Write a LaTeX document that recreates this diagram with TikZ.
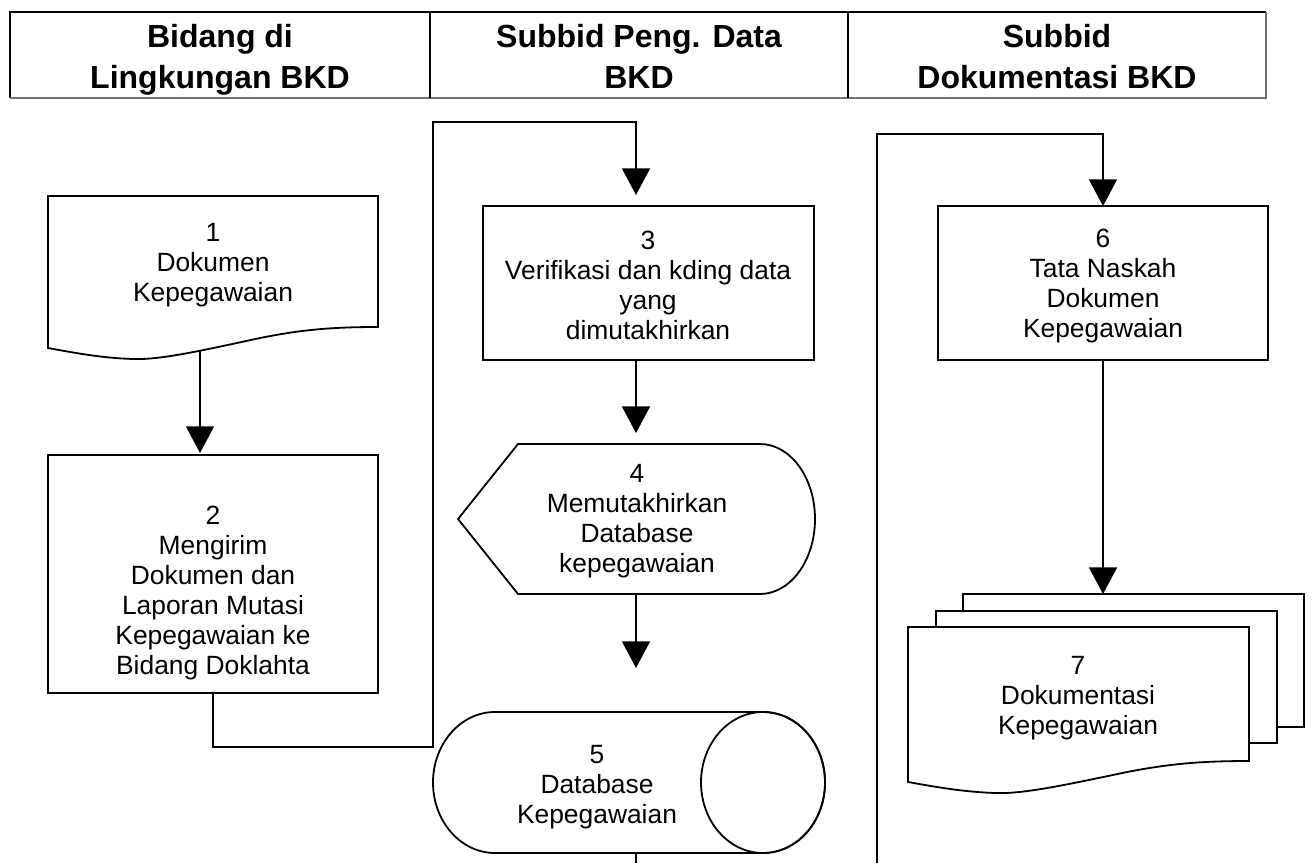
\documentclass[tikz,border=0pt]{standalone}
\usepackage{fontspec}
\setmainfont{Liberation Sans}
\usetikzlibrary{arrows.meta}
\begin{document}
\begin{tikzpicture}[x=0.75pt,y=-0.75pt,
  every node/.style={inner sep=0pt, outer sep=0pt},
  ln/.style={line width=1.35pt, line join=miter},
  arr/.style={ln,-{Triangle[width=21pt,length=20pt]}},
  txt/.style={align=center, font=\fontsize{19.8pt}{22.5pt}\selectfont},
  hdr/.style={align=center, font=\fontsize{24pt}{30.75pt}\selectfont\bfseries},
  pbox/.style={draw, ln, rectangle, fill=white}
]
\useasboundingbox (0,0) rectangle (1312,863);

% header
\draw[line width=0.8pt] (10,98) -- (10,12) -- (1266,12);
\draw[line width=1.3pt, black!55] (10,98) -- (1266,98) -- (1266,12);
\draw[line width=0.8pt] (430,12) -- (430,98);
\draw[line width=0.8pt] (848,12) -- (848,98);
\node[hdr] (h1) at (220,60) {\strut Bidang di\\Lingkungan BKD\strut};
\node[hdr] (h2) at (639,60) {\strut Subbid Peng. Data\\BKD\strut};
\node[hdr] (h3) at (1057,60) {\strut Subbid\\Dokumentasi BKD\strut};

% 1 document
\draw[ln, fill=white] (48,348) -- (48,196) -- (378,196) -- (378,327)
  .. controls (330,327) and (300,330) .. (260,338)
  .. controls (200,351) and (160,360) .. (133,359)
  .. controls (100,358) and (70,352) .. (48,348) -- cycle;
\node[txt] (t1) at (213,265) {1\\Dokumen\\Kepegawaian};
\coordinate (d1b) at (200,351);

% 2 process
\node[pbox, minimum width=247.5pt, minimum height=178.5pt] (b2) at (213,574) {};
\node[txt] (t2) at (213,593) {2\\Mengirim\\Dokumen dan\\Laporan Mutasi\\Kepegawaian ke\\Bidang Doklahta};

% 3 process
\node[pbox, minimum width=248.25pt, minimum height=115.5pt] (b3) at (648.5,283) {};
\node[txt] (t3) at (648,285) {3\\Verifikasi dan kding data\\yang\\dimutakhirkan};

% 4 display
\draw[ln, fill=white] (518,444) -- (760,444)
  arc[start angle=-90, end angle=90, x radius=55, y radius=75]
  -- (518,594) -- (458,519) -- cycle;
\node[txt] (t4) at (637,521) {4\\Memutakhirkan\\Database\\kepegawaian};
\coordinate (s4n) at (636,444);
\coordinate (s4s) at (636,594);

% 5 database
\draw[ln, fill=white] (495,712) -- (763,712)
  arc[start angle=-90, end angle=90, x radius=62, y radius=70.5]
  -- (495,853)
  arc[start angle=90, end angle=270, x radius=62, y radius=70.5] -- cycle;
\draw[ln] (763,782.5) ellipse[x radius=62, y radius=70.5];
\node[txt] (t5) at (597,787) {5\\Database\\Kepegawaian};
\coordinate (s5n) at (636,712);
\coordinate (s5s) at (636,853);
\coordinate (e5) at (636,863);

% 6 process
\node[pbox, minimum width=247.5pt, minimum height=115.5pt] (b6) at (1103,283) {};
\node[txt] (t6) at (1103,286) {6\\Tata Naskah\\Dokumen\\Kepegawaian};

% 7 multi document
\draw[ln, fill=white] (963,594) rectangle (1304,727);
\draw[ln, fill=white] (936,611) rectangle (1277,743);
\draw[ln, fill=white] (908,782) -- (908,627) -- (1249,627) -- (1249,761)
  .. controls (1199.4,761) and (1168.4,764) .. (1127.1,772)
  .. controls (1065.1,785) and (1023.7,794) .. (995.8,793)
  .. controls (961.7,792) and (930.7,786) .. (908,782) -- cycle;
\node[txt] (t7) at (1078,698) {7\\Dokumentasi\\Kepegawaian};
\coordinate (s7n) at (1103,594);

% connectors
\coordinate (j1) at (433,747);
\coordinate (j2) at (433,122);
\coordinate (c2) at (636,0);
\coordinate (e6) at (877,863);
\coordinate (j3) at (877,134);

\draw[arr, shorten >=1.5pt] (d1b) -- (d1b |- b2.north);
\draw[arr, shorten >=8.25pt] (b2.south) |- (j1) -- (j2) -| (c2 |- b3.north);
\draw[arr, shorten >=8.25pt] (c2 |- b3.south) -- (s4n);
\draw[arr, shorten >=33pt] (s4s) -- (s5n);
\draw[ln] (s5s) -- (e5);
\draw[arr] (e6) -- (j3) -| (b6.north);
\draw[arr] (b6.south) -- (s7n);
\end{tikzpicture}
\end{document}
